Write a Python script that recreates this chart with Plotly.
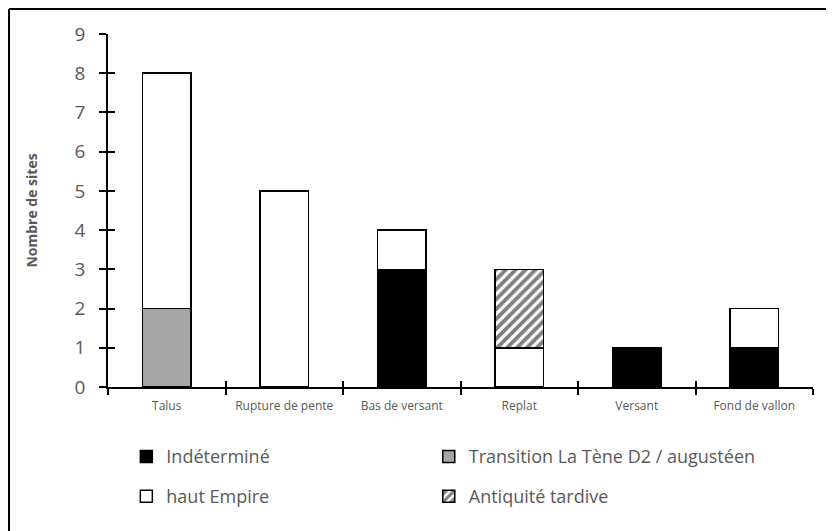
import plotly.graph_objects as go

# ------------------------------
# Data
# ------------------------------
categories = ["Talus", "Rupture de pente", "Bas de versant", "Replat", "Versant", "Fond de vallon"]
indetermine = [0, 0, 3, 0, 1, 1]
transition = [2, 0, 0, 0, 0, 0]
haut_empire = [6, 5, 1, 1, 0, 1]
antiquite_tardive = [0, 0, 0, 2, 0, 0]
y_ticks = list(range(0, 10))

GREY_TXT = "#595959"
FONT = "Open Sans"

fig = go.Figure()

outline = dict(color="black", width=1.5)

fig.add_trace(go.Bar(x=categories, y=indetermine, name="Indéterminé",
                     marker=dict(color="black", line=outline), legend="legend"))
fig.add_trace(go.Bar(x=categories, y=transition, name="Transition La Tène D2 / augustéen",
                     marker=dict(color="#a6a6a6", line=outline), legend="legend2"))
fig.add_trace(go.Bar(x=categories, y=haut_empire, name="haut Empire",
                     marker=dict(color="white", line=outline), legend="legend3"))
fig.add_trace(go.Bar(x=categories, y=antiquite_tardive, name="Antiquité tardive",
                     marker=dict(color="white", line=outline,
                                 pattern=dict(shape="/", fgcolor="black", bgcolor="white",
                                              size=7, solidity=0.55)),
                     legend="legend4"))

# invisible trace so the overlay axes (inner half of the crossing ticks) get drawn
fig.add_trace(go.Bar(x=categories, y=[0] * len(categories), xaxis="x2", yaxis="y2",
                     showlegend=False, hoverinfo="skip", marker=dict(color="rgba(0,0,0,0)")))


# one small legend per entry -> 2x2 grid under the chart
def legend_box(x, y):
    return dict(orientation="v", x=x, xanchor="left", y=y, yanchor="top",
                font=dict(size=18, color=GREY_TXT), bgcolor="rgba(0,0,0,0)")


# ------------------------------
# Layout
# (the html page has an 8px body margin, margins are shifted to compensate)
# ------------------------------
fig.update_layout(
    width=834, height=531,
    barmode="stack", bargap=0.59,
    plot_bgcolor="white", paper_bgcolor="white",
    margin=dict(l=100, r=29, t=26, b=152),
    font=dict(family=FONT, color=GREY_TXT),
    xaxis=dict(type="category", categoryarray=categories, tickson="boundaries",
               ticks="outside", ticklen=6, tickwidth=1.5, tickcolor="black",
               showline=True, linecolor="black", linewidth=1.5,
               tickfont=dict(size=12, color=GREY_TXT), showgrid=False,
               ticklabelstandoff=7),
    yaxis=dict(range=[0, 9], tickvals=y_ticks, ticks="outside", ticklen=7,
               tickwidth=1.5, tickcolor="black", showline=True, linecolor="black",
               linewidth=1.5, tickfont=dict(size=19, color=GREY_TXT), showgrid=False,
               zeroline=False, ticklabelstandoff=10,
               title=dict(text="<b>Nombre de sites</b>", font=dict(size=14, color=GREY_TXT),
                          standoff=34)),
    xaxis2=dict(type="category", categoryarray=categories, tickson="boundaries",
                overlaying="x", ticks="inside", ticklen=6, tickwidth=1.5,
                tickcolor="black", showticklabels=False, showgrid=False),
    yaxis2=dict(range=[0, 9], tickvals=y_ticks, overlaying="y", ticks="inside",
                ticklen=7, tickwidth=1.5, tickcolor="black", showticklabels=False,
                showgrid=False, zeroline=False),
    legend=legend_box(0.026, -0.145),
    legend2=legend_box(0.455, -0.145),
    legend3=legend_box(0.026, -0.258),
    legend4=legend_box(0.455, -0.258),
    showlegend=True,
)

# frame of the original picture: only top and left edges are visible
fig.add_shape(type="line", xref="paper", yref="paper", x0=-0.1404, x1=1.05,
              y0=1.0708, y1=1.0708, line=dict(color="black", width=2))
fig.add_shape(type="line", xref="paper", yref="paper", x0=-0.1404, x1=-0.1404,
              y0=1.0708, y1=-0.42, line=dict(color="black", width=2))

fig.write_html("out.html")
